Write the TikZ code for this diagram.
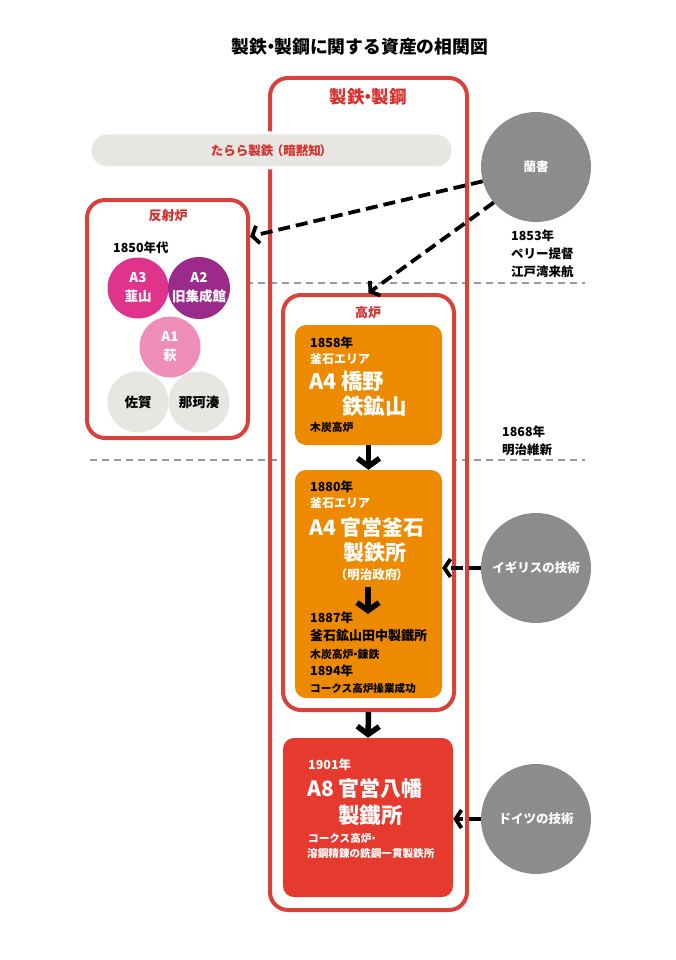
\documentclass[tikz,border=0pt]{standalone}
\usepackage{fontspec}
\setmainfont{Noto Sans CJK JP}
\usetikzlibrary{arrows.meta,positioning}
\definecolor{akasen}{HTML}{D8423A}
\definecolor{akaji}{HTML}{D3302E}
\definecolor{daidai}{HTML}{EE8A00}
\definecolor{shu}{HTML}{E63A2F}
\definecolor{haiiro}{HTML}{8C8C8C}
\definecolor{usuhai}{HTML}{E8E6E3}
\definecolor{momo}{HTML}{E0338C}
\definecolor{murasaki}{HTML}{9C2A8C}
\definecolor{usumomo}{HTML}{EE8DB8}
\newcommand{\fs}[1]{\bfseries\fontsize{#1}{#1}\selectfont}
\newcommand{\nakaguro}{\kern-.3em・\kern-.3em}
\begin{document}
\begin{tikzpicture}[x=1pt,y=-1pt,
  waku/.style={draw=akasen,line width=4pt,rounded corners=18pt,inner sep=0pt},
  hako/.style={rounded corners=11pt,inner sep=0pt},
  t/.style={inner sep=0pt,anchor=west},
  maru/.style={circle,inner sep=0pt,minimum size=61pt,align=center,font=\bfseries\fontsize{13.5}{19}\selectfont},
  gijutsu/.style={circle,fill=haiiro,inner sep=0pt,minimum size=110pt,text=white,font=\fs{12.5}},
  ya/.style={line width=5.5pt,-{Straight Barb[length=8pt,width=22pt]}},
  tenya/.style={line width=3.8pt,dash pattern=on 12pt off 6pt,-{Straight Barb[length=6pt,width=18pt]}},
  kugiri/.style={draw=black!40,line width=1.8pt,dash pattern=on 7pt off 5pt}]
\useasboundingbox (0,0) rectangle (676,960);
\node[font=\fs{17.8}] (title) at (360,47) {製鉄\nakaguro 製鋼に関する資産の相関図};
% time lines
\draw[kugiri] (90,283) -- (585,283);
\draw[kugiri] (90,460) -- (585,460);
% frames
\node[waku,minimum width=197pt,minimum height=832pt] (seitetsu) at (368.5,494) {};
\node[font=\fs{17.5},text=akaji] (seitetsuT) at (368,97) {製鉄\nakaguro 製鋼};
\node[fill=usuhai,draw=white,line width=3pt,rounded corners=17pt,minimum width=363pt,minimum height=35pt,text=akaji,font=\fs{12.5}] (tatara) at (271.5,150.5) {たらら製鉄\kern-.2em（暗黙知\kern-.1em）};
\node[waku,fill=white,minimum width=161pt,minimum height=238pt] (hansha) at (167.5,319) {};
\node[font=\fs{13},text=akaji] (hanshaT) at (168,216) {反射炉};
\node[t,font=\fs{12.5}] (y1850) at (113,248) {1850年代};
\node[maru,fill=momo,text=white] (nira) at (138,288) {A3\\韮山};
\node[maru,fill=murasaki,text=white] (shusei) at (199,288) {A2\\旧集成館};
\node[maru,fill=usumomo,text=white] (hagi) at (170,347) {A1\\萩};
\node[maru,fill=usuhai] (saga) at (138,402) {佐賀};
\node[maru,fill=usuhai] (naka) at (199,402) {那珂湊};
\node[waku,fill=white,minimum width=171pt,minimum height=415pt] (koro) at (368.5,502.5) {};
\node[font=\fs{13},text=akaji] (koroT) at (368,313) {高炉};
% Hashino
\node[hako,fill=daidai,minimum width=147pt,minimum height=120pt] (hashino) at (368.5,385) {};
\node[t,font=\fs{12.5}] (y1858) at (310,343) {1858年};
\node[t,font=\fs{12},text=white] (eria1) at (310,359) {釜石エリア};
\node[t,font=\fs{21.5},text=white] (hashinoT) at (309,381) {A4 橋野};
\node[t,font=\fs{21.5},text=white] (tekkozan) at (342,406) {鉄鉱山};
\node[t,font=\fs{10.8}] (mokutan1) at (310,427) {木炭高炉};
% Kamaishi
\node[hako,fill=daidai,minimum width=147pt,minimum height=228pt] (kama) at (368.5,584) {};
\node[t,font=\fs{12.5}] (y1880) at (310,487) {1880年};
\node[t,font=\fs{12},text=white] (eria2) at (310,503) {釜石エリア};
\node[t,font=\fs{21},text=white] (kamaT) at (309,527) {A4 官営釜石};
\node[t,font=\fs{21},text=white] (seitetsusho) at (343,553) {製鉄所};
\node[font=\fs{12.5},text=white,inner sep=0pt] (seifu) at (373,575) {\kern-.2em（明治政府\kern-.1em）};
\coordinate (nakaA) at (368,587);
\coordinate (nakaB) at (368,614);
\node[t,font=\fs{12.5}] (y1887) at (310,618) {1887年};
\node[t,font=\fs{13}] (tanaka) at (310,636) {釜石鉱山田中製鐵所};
\node[t,font=\fs{10.8}] (rentetsu) at (310,654) {木炭高炉\nakaguro 錬鉄};
\node[t,font=\fs{12.5}] (y1894) at (310,671) {1894年};
\node[t,font=\fs{10.6}] (coke1) at (310,688) {コークス高炉操業成功};
% Yawata
\node[hako,fill=shu,minimum width=170pt,minimum height=159pt] (yawata) at (368,817.5) {};
\node[t,font=\fs{12.5},text=white] (y1901) at (308,765) {1901年};
\node[t,font=\fs{21},text=white] (yawataT) at (307,788) {A8 官営八幡};
\node[t,font=\fs{21.5},text=white] (seitetsusho2) at (338,815) {製鐵所};
\node[t,font=\fs{10.6},text=white] (coke2) at (308,838) {コークス高炉\kern-.3em・};
\node[t,font=\fs{10.6},text=white] (ikkan) at (307,854) {溶鋼精錬の銑鋼一貫製鉄所};
% sources
\node[gijutsu] (ransho) at (536,167) {蘭書};
\node[t,align=left,font=\bfseries\fontsize{12.5}{18}\selectfont] (perry) at (511,254) {1853年\\ペリー提督\\江戸湾来航};
\node[t,align=left,font=\bfseries\fontsize{12.5}{18}\selectfont] (meijiishin) at (502,441) {1868年\\明治維新};
\node[gijutsu] (igirisu) at (536,568) {イギリスの技術};
\node[gijutsu] (doitsu) at (536,819) {ドイツの技術};
% arrows
\draw[ya] (hashino.south) -- (kama.north);
\draw[ya] (nakaA) -- (nakaB);
\draw[ya] (koro.south) -- (yawata.north);
\draw[tenya] (ransho.195) -- (hansha.45);
\draw[tenya] (ransho.220) -- (koro.north);
\draw[tenya] (igirisu.west) -- (kama.east |- igirisu.west);
\draw[tenya] (doitsu.west) -- (yawata.east |- doitsu.west);
\end{tikzpicture}
\end{document}
